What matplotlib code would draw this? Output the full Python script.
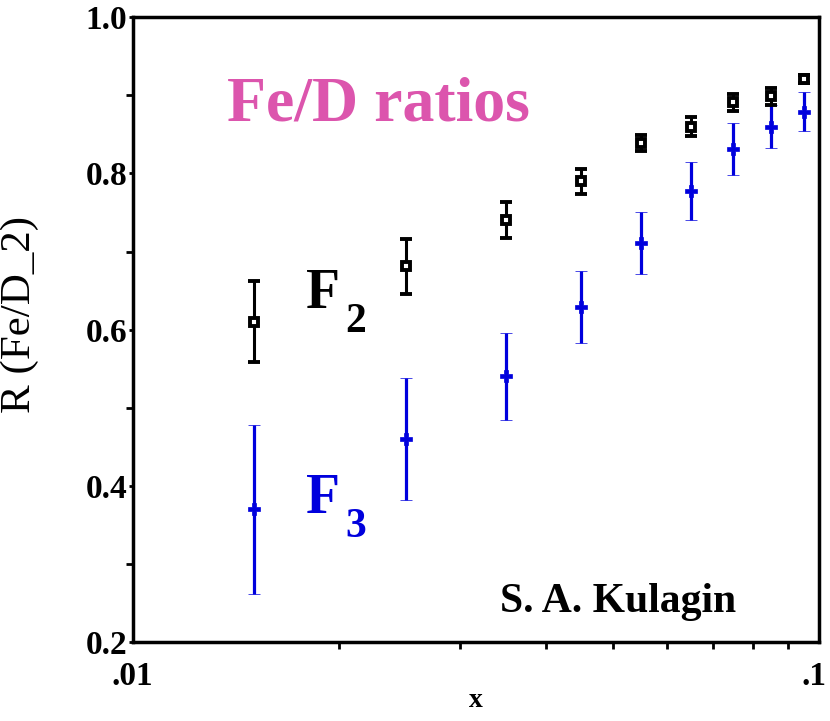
import numpy as np
import matplotlib
matplotlib.use("Agg")
import matplotlib.pyplot as plt
import matplotlib.transforms as mtransforms
from matplotlib.ticker import FixedLocator, NullFormatter

# Fe/D ratio data
x = [0.015, 0.025, 0.035, 0.045, 0.055, 0.065, 0.075, 0.085, 0.095]
f2 = [0.610, 0.681, 0.741, 0.790, 0.839, 0.860, 0.891, 0.899, 0.921]
f2_err = [0.052, 0.035, 0.023, 0.016, 0.010, 0.012, 0.011, 0.011, 0.005]
f3 = [0.370, 0.460, 0.540, 0.629, 0.711, 0.778, 0.831, 0.860, 0.879]
f3_err = [0.108, 0.078, 0.056, 0.046, 0.040, 0.037, 0.033, 0.028, 0.025]

xticks = [0.01, 0.1]
xticklabels = [".01", ".1"]
yticks = [0.2, 0.4, 0.6, 0.8, 1.0]
yticklabels = ["0.2", "0.4", "0.6", "0.8", "1.0"]

BLUE = "#0000dd"
PINK = "#dc55ad"
plt.rcParams["font.family"] = ["Liberation Serif", "DejaVu Serif"]

fig = plt.figure(figsize=(8.3, 7.21), dpi=100)
ax = fig.add_axes([0.160, 0.1096, 0.827, 0.8664])

ax.errorbar(x, f3, yerr=f3_err, fmt="P", color=BLUE, mfc=BLUE, mec=BLUE, ms=9, mew=0.5,
            elinewidth=2.3, capsize=4, capthick=2.2, zorder=3)
ax.errorbar(x, f2, yerr=f2_err, fmt="s", color="black", mfc="white", mec="black",
            ms=5.6, mew=2.8, elinewidth=2.2, capsize=4, capthick=2.2, zorder=4)

ax.set_xscale("log")
ax.set_xlim(0.01, 0.1)
ax.set_ylim(0.2, 1.0)

ax.xaxis.set_major_locator(FixedLocator(xticks))
ax.set_xticklabels(xticklabels)
ax.xaxis.set_minor_locator(FixedLocator([0.02, 0.03, 0.04, 0.05, 0.06, 0.07, 0.08, 0.09]))
ax.xaxis.set_minor_formatter(NullFormatter())
ax.set_yticks(yticks)
ax.set_yticklabels(yticklabels)
ax.yaxis.set_minor_locator(FixedLocator([0.3, 0.5, 0.7, 0.9]))

ax.tick_params(which="both", direction="out", width=2, length=5, labelsize=24)
ax.tick_params(axis="y", which="major", length=3, pad=1)
ax.tick_params(axis="x", which="major", length=0, pad=14)
for lab in ax.get_xticklabels() + ax.get_yticklabels():
    lab.set_fontweight("bold")
for s in ax.spines.values():
    s.set_linewidth(2.5)

# nudge ".1" a little left so it stays inside the figure
last = ax.get_xticklabels()[-1]
last.set_transform(last.get_transform() +
                   mtransforms.ScaledTranslation(-4 / 72, 0, fig.dpi_scale_trans))

ax.set_xlabel("x", fontsize=20, fontweight="bold", labelpad=-3)
ax.set_ylabel("R (Fe/D_2)", fontsize=31)
ax.yaxis.set_label_coords(-0.137, 0.525)

ax.text(0.137, 0.835, "Fe/D ratios", transform=ax.transAxes, color=PINK,
        fontsize=46, fontweight="bold")
ax.text(0.252, 0.535, "F", transform=ax.transAxes, fontsize=40, fontweight="bold")
ax.text(0.310, 0.496, "2", transform=ax.transAxes, fontsize=30, fontweight="bold")
ax.text(0.252, 0.207, "F", transform=ax.transAxes, color=BLUE, fontsize=40, fontweight="bold")
ax.text(0.310, 0.168, "3", transform=ax.transAxes, color=BLUE, fontsize=30, fontweight="bold")
ax.text(0.535, 0.048, "S. A. Kulagin", transform=ax.transAxes, fontsize=30, fontweight="bold")

fig.savefig("out.png", dpi=100)
